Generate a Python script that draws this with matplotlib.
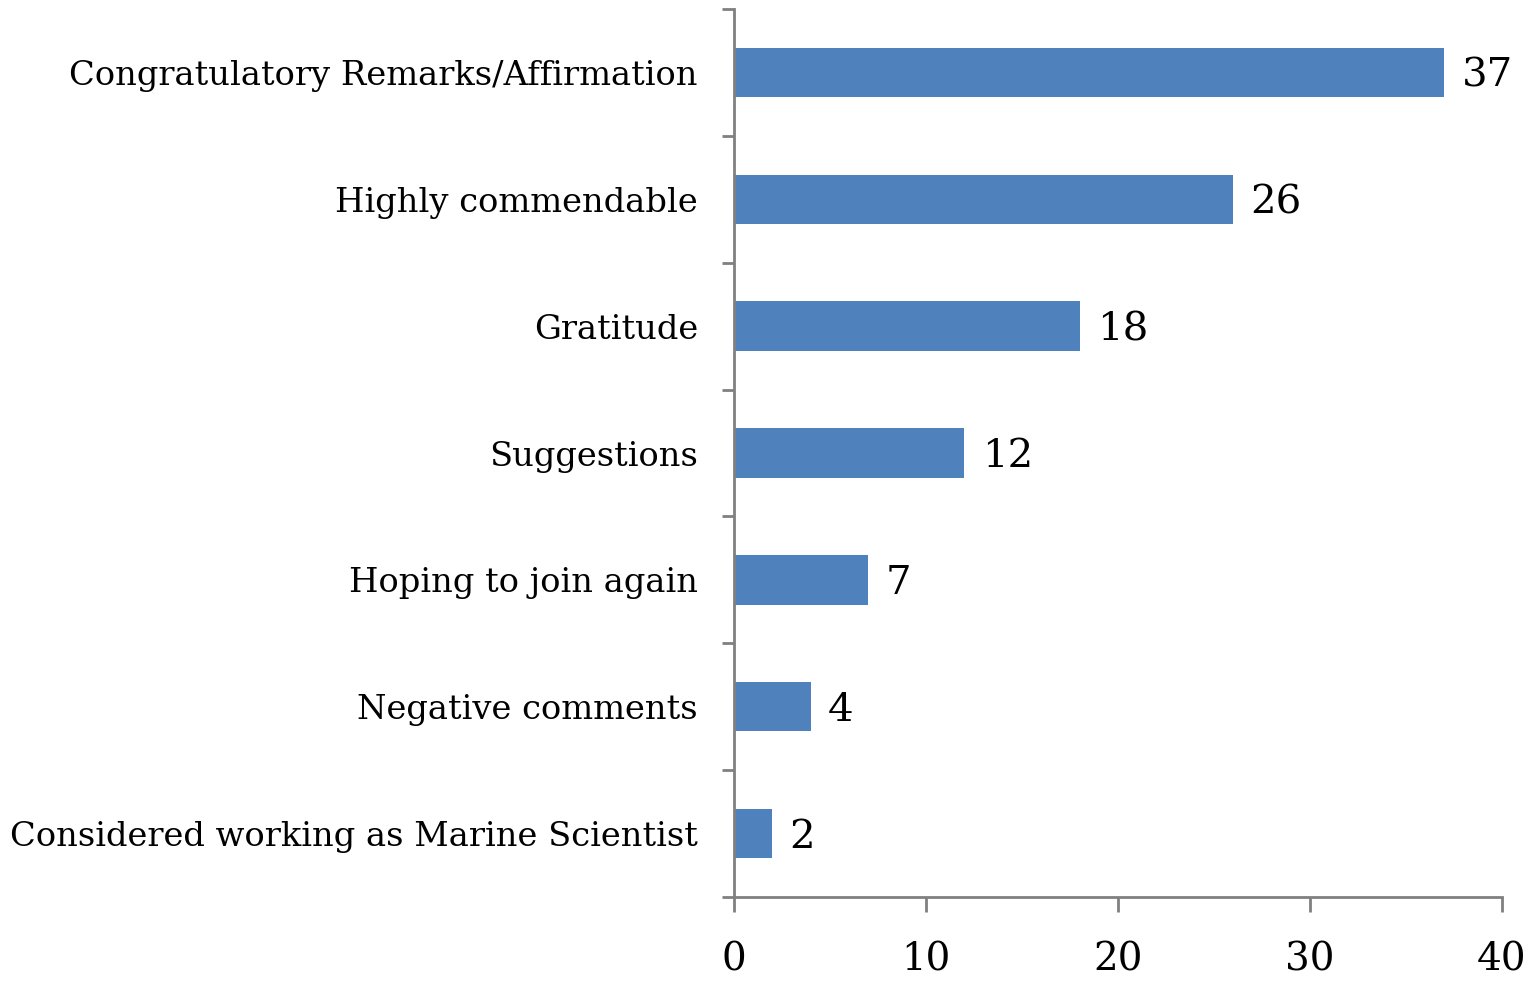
import matplotlib.pyplot as plt
import numpy as np

# data
categories = [
    "Congratulatory Remarks/Affirmation",
    "Highly commendable",
    "Gratitude",
    "Suggestions",
    "Hoping to join again",
    "Negative comments",
    "Considered working as Marine Scientist",
]
counts = [37, 26, 18, 12, 7, 4, 2]
xticks = [0, 10, 20, 30, 40]

plt.rcParams['font.family'] = ['DejaVu Serif']

fig = plt.figure(figsize=(15.34, 9.81), dpi=100)
ax = fig.add_axes([0.4785, 0.0856, 0.5006, 0.9052])

y = np.arange(len(categories))[::-1]
ax.barh(y, counts, height=0.39, color="#4F81BD", zorder=2)

for yi, c in zip(y, counts):
    ax.text(c + 0.9, yi - 0.03, str(c), va="center", ha="left", fontsize=29)

ax.set_xlim(0, 40)
ax.set_ylim(-0.5, len(categories) - 0.5)
ax.set_xticks(xticks)
ax.set_xticklabels([str(t) for t in xticks], fontsize=28)
ax.set_yticks(y)
ax.set_yticklabels(categories, fontsize=24.3)
ax.set_yticks(np.arange(-0.5, len(categories)), minor=True)

grey = "#808080"
for s in ["top", "right"]:
    ax.spines[s].set_visible(False)
for s in ["left", "bottom"]:
    ax.spines[s].set_color(grey)
    ax.spines[s].set_linewidth(2)

ax.tick_params(axis="y", which="major", length=0, pad=26)
ax.tick_params(axis="y", which="minor", length=9, width=2, color=grey, direction="out")
ax.tick_params(axis="x", which="major", length=11, width=2, color=grey, direction="out", pad=21)

fig.savefig("out.png", dpi=100)
